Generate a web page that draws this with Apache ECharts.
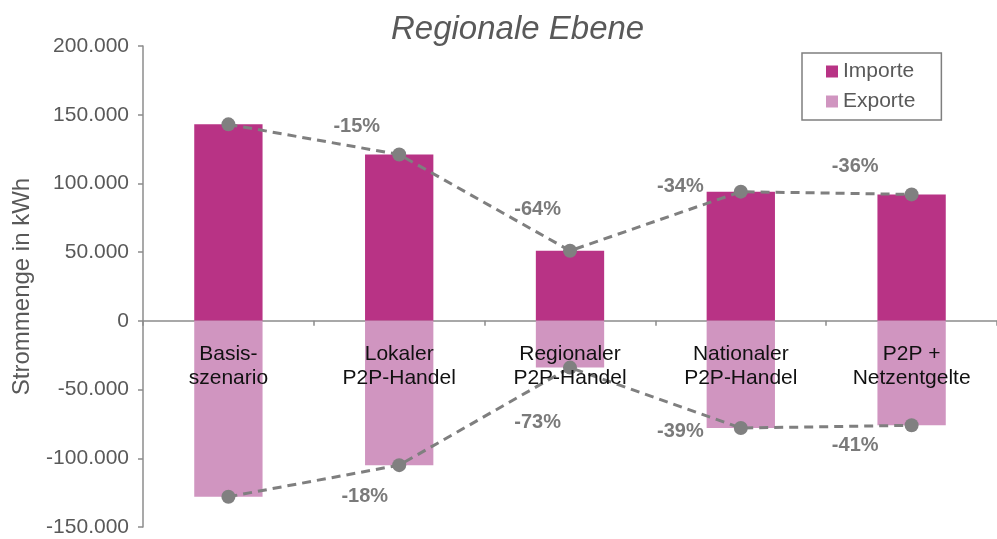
<!DOCTYPE html>
<html lang="de">
<head>
    <meta charset="UTF-8">
    <title>Regionale Ebene</title>
    <script src="https://cdn.jsdelivr.net/npm/echarts@6/dist/echarts.min.js"></script>
    <style>
        html, body { margin: 0; padding: 0; background: #fff; }
        #chart { width: 997px; height: 539px; }
    </style>
</head>
<body>
    <div id="chart"></div>
    <script type="text/javascript">
        // Daten
        var categories = ['Basis-\nszenario', 'Lokaler\nP2P-Handel', 'Regionaler\nP2P-Handel', 'Nationaler\nP2P-Handel', 'P2P +\nNetzentgelte'];
        var importe = [143000, 121000, 51000, 94000, 92000];
        var exporte = [-128000, -105000, -34000, -78000, -76000];
        var importLabels = ['-15%', '-64%', '-34%', '-36%'];
        var exportLabels = ['-18%', '-73%', '-39%', '-41%'];

        // Versatz der Prozent-Beschriftungen (px) relativ zur Linienmitte
        var importOffsets = [[43, -13], [53, 7], [25, -35], [29, -27]];
        var exportOffsets = [[51, 16], [53, 6], [25, 34], [29, 19]];

        var font = 'Liberation Sans, Arial, sans-serif';
        var grey = '#595959';
        var axisGrey = '#8c8c8c';

        function fmt(v) {
            var s = String(Math.abs(v)).replace(/\B(?=(\d{3})+(?!\d))/g, '.');
            return (v < 0 ? '-' : '') + s;
        }

        // Beschriftungen zwischen zwei Kategorien (Mitte der Verbindungslinie)
        function midLabels(values, texts, offsets) {
            return texts.map(function (t, i) {
                return {
                    value: [i + 1, (values[i] + values[i + 1]) / 2],
                    label: { formatter: t, offset: offsets[i] }
                };
            });
        }

        function lineSeries(name, values) {
            return {
                name: name,
                type: 'line',
                data: values,
                symbol: 'circle',
                symbolSize: 14,
                z: 5,
                itemStyle: { color: '#808080' },
                lineStyle: { color: '#7f7f7f', width: 3, type: [9, 6] },
                emphasis: { disabled: true }
            };
        }

        function labelSeries(data) {
            return {
                type: 'scatter',
                xAxisIndex: 2,
                symbolSize: 0,
                z: 6,
                data: data,
                label: {
                    show: true,
                    position: 'inside',
                    fontFamily: font,
                    fontSize: 20,
                    fontWeight: 'bold',
                    color: grey
                }
            };
        }

        var option = {
            animation: false,
            title: {
                text: 'Regionale Ebene',
                left: 386,
                top: 8,
                textStyle: {
                    fontFamily: font,
                    fontSize: 33,
                    fontStyle: 'italic',
                    fontWeight: 'normal',
                    color: grey
                }
            },
            legend: {
                data: ['Importe', 'Exporte'],
                orient: 'vertical',
                left: 802,
                top: 53,
                padding: [8, 26, 8, 24],
                itemGap: 9,
                itemWidth: 12,
                itemHeight: 12,
                icon: 'rect',
                borderColor: '#7f7f7f',
                borderWidth: 1.5,
                textStyle: { fontFamily: font, fontSize: 21, color: grey }
            },
            grid: { left: 143, right: 0, top: 46, bottom: 12, outerBoundsMode: 'none' },
            xAxis: [{
                // Achsenlinie auf Null
                type: 'category',
                data: categories,
                axisLine: { onZero: true, lineStyle: { color: axisGrey, width: 1.5 } },
                axisTick: { show: true, length: 5, lineStyle: { color: axisGrey, width: 1.5 } },
                axisLabel: { show: false }
            }, {
                // Kategorienbeschriftung direkt unter der Nulllinie
                type: 'category',
                data: categories,
                position: 'bottom',
                offset: -206,
                z: 10,
                axisLine: { show: false },
                axisTick: { show: false },
                axisLabel: {
                    margin: 21,
                    fontFamily: font,
                    fontSize: 21,
                    lineHeight: 24,
                    color: '#111'
                }
            }, {
                type: 'value',
                min: 0,
                max: 5,
                show: false
            }],
            yAxis: {
                type: 'value',
                min: -150000,
                max: 200000,
                interval: 50000,
                name: 'Strommenge in kWh',
                nameLocation: 'middle',
                nameGap: 109,
                nameTextStyle: { fontFamily: font, fontSize: 24, color: grey },
                axisLine: { show: true, lineStyle: { color: axisGrey, width: 1.5 } },
                axisTick: { show: true, length: 5, lineStyle: { color: axisGrey, width: 1.5 } },
                splitLine: { show: false },
                axisLabel: {
                    margin: 14,
                    fontFamily: font,
                    fontSize: 21,
                    color: grey,
                    formatter: fmt
                }
            },
            series: [{
                name: 'Importe',
                type: 'bar',
                stack: 'strom',
                data: importe,
                barWidth: '40%',
                itemStyle: { color: '#B83385' }
            }, {
                name: 'Exporte',
                type: 'bar',
                stack: 'strom',
                data: exporte,
                barWidth: '40%',
                itemStyle: { color: '#D095C0' }
            },
            lineSeries('ImporteLinie', importe),
            lineSeries('ExporteLinie', exporte),
            labelSeries(midLabels(importe, importLabels, importOffsets)),
            labelSeries(midLabels(exporte, exportLabels, exportOffsets))
            ]
        };

        var myChart = echarts.init(document.getElementById('chart'));
        myChart.setOption(option);
        window.onresize = function () {
            myChart.resize();
        };
    </script>
</body>
</html>
